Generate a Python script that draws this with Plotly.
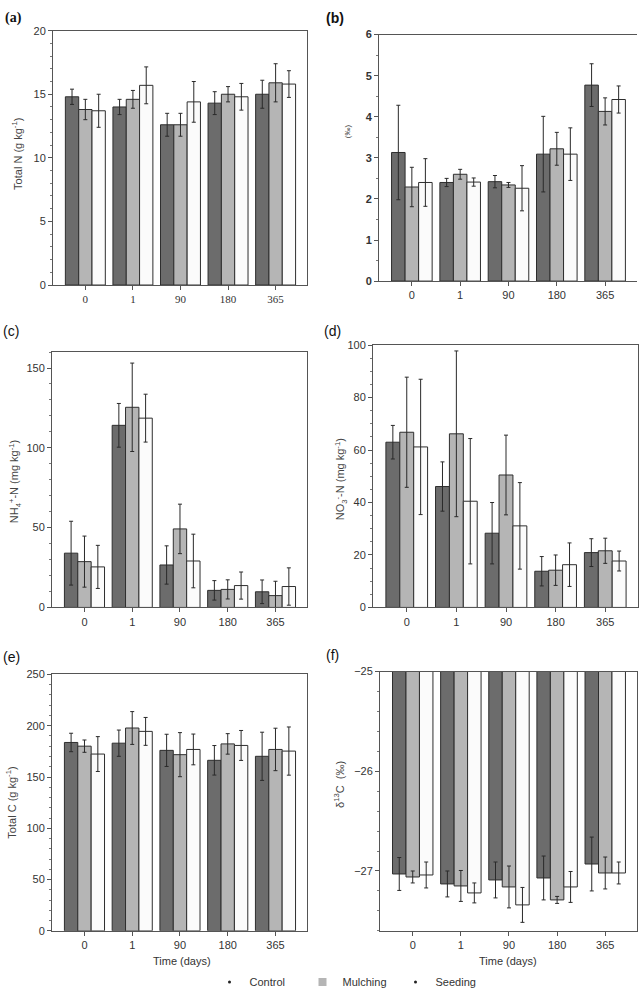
import plotly.graph_objects as go

W, H = 644, 997

days = ["0", "1", "90", "180", "365"]
treatments = ["Control", "Mulching", "Seeding"]
bar_colors = ["#6c6c6c", "#b5b5b5", "#fbfbfb"]

# (a) Total N (g kg-1)
tn_ctrl = [14.8, 14.0, 12.6, 14.3, 15.0]
tn_mulch = [13.8, 14.6, 12.6, 15.0, 15.9]
tn_seed = [13.7, 15.7, 14.4, 14.8, 15.8]
tn_ctrl_err = [0.6, 0.6, 0.9, 0.9, 1.1]
tn_mulch_err = [0.8, 0.7, 0.9, 0.6, 1.5]
tn_seed_err = [1.3, 1.45, 1.6, 1.05, 1.05]

# (b) delta 15N (permil)
dn_ctrl = [3.13, 2.40, 2.42, 3.09, 4.77]
dn_mulch = [2.29, 2.60, 2.34, 3.22, 4.13]
dn_seed = [2.40, 2.41, 2.26, 3.09, 4.42]
dn_ctrl_err = [1.15, 0.10, 0.15, 0.92, 0.52]
dn_mulch_err = [0.48, 0.12, 0.06, 0.40, 0.33]
dn_seed_err = [0.58, 0.10, 0.55, 0.64, 0.33]

# (c) NH4+-N (mg kg-1)
nh_ctrl = [34.0, 114.1, 26.6, 10.7, 9.8]
nh_mulch = [28.7, 125.4, 49.2, 11.3, 7.4]
nh_seed = [25.4, 118.6, 29.1, 13.7, 13.1]
nh_ctrl_err = [20.0, 13.7, 12.0, 6.1, 7.4]
nh_mulch_err = [16.0, 27.7, 15.5, 6.0, 9.0]
nh_seed_err = [13.5, 15.0, 16.8, 8.5, 11.7]

# (d) NO3--N (mg kg-1)
no_ctrl = [63.0, 46.1, 28.3, 13.8, 20.9]
no_mulch = [66.8, 66.2, 50.5, 14.2, 21.6]
no_seed = [61.2, 40.5, 31.1, 16.3, 17.7]
no_ctrl_err = [6.4, 9.4, 11.7, 5.6, 5.3]
no_mulch_err = [21.0, 31.6, 15.2, 5.8, 4.8]
no_seed_err = [25.8, 23.9, 16.5, 8.3, 3.8]

# (e) Total C (g kg-1)
tc_ctrl = [183.7, 183.0, 176.0, 166.3, 170.2]
tc_mulch = [180.1, 197.8, 171.8, 182.3, 176.9]
tc_seed = [172.4, 194.5, 176.9, 180.8, 175.3]
tc_ctrl_err = [9.0, 12.8, 15.7, 14.4, 23.5]
tc_mulch_err = [6.0, 16.0, 21.5, 10.0, 20.7]
tc_seed_err = [17.0, 13.6, 15.0, 14.6, 23.5]

# (f) delta 13C (permil)
dc_ctrl = [-27.03, -27.13, -27.09, -27.07, -26.93]
dc_mulch = [-27.06, -27.15, -27.16, -27.29, -27.02]
dc_seed = [-27.04, -27.22, -27.34, -27.16, -27.02]
dc_ctrl_err = [0.165, 0.13, 0.18, 0.22, 0.27]
dc_mulch_err = [0.06, 0.155, 0.21, 0.035, 0.16]
dc_seed_err = [0.13, 0.10, 0.175, 0.155, 0.11]

panels = [
    ("a", [tn_ctrl, tn_mulch, tn_seed], [tn_ctrl_err, tn_mulch_err, tn_seed_err],
     (53, 307, 25, 283), [0, 20], 5, 1),
    ("b", [dn_ctrl, dn_mulch, dn_seed], [dn_ctrl_err, dn_mulch_err, dn_seed_err],
     (379, 637, 29, 279), [0, 6], 1, 0.5),
    ("c", [nh_ctrl, nh_mulch, nh_seed], [nh_ctrl_err, nh_mulch_err, nh_seed_err],
     (52, 307, 351, 610), [0, 160], 50, 10),
    ("d", [no_ctrl, no_mulch, no_seed], [no_ctrl_err, no_mulch_err, no_seed_err],
     (373, 638, 344, 610), [0, 100], 20, 5),
    ("e", [tc_ctrl, tc_mulch, tc_seed], [tc_ctrl_err, tc_mulch_err, tc_seed_err],
     (52, 307, 678, 938), [0, 250], 50, 10),
    ("f", [dc_ctrl, dc_mulch, dc_seed], [dc_ctrl_err, dc_mulch_err, dc_seed_err],
     (380, 637, 675, 938), [-27.6, -25], 1, 0.2),
]

fig = go.Figure()
layout = {}
for i, (key, vals, errs, box, yr, dt, mn) in enumerate(panels):
    idx = "" if i == 0 else str(i + 1)
    xa, ya = "x" + idx, "y" + idx
    for t, name in enumerate(treatments):
        fig.add_trace(go.Bar(
            x=days, y=vals[t], name=name, xaxis=xa, yaxis=ya,
            marker=dict(color=bar_colors[t], line=dict(color="#2e2e2e", width=1)),
            error_y=dict(type="data", array=errs[t], color="#2a2a2a", thickness=1, width=2),
            showlegend=False, offsetgroup=str(t),
        ))
    x0, x1, y0, y1 = box
    xfont = dict(family="Liberation Serif" if key == "a" else "Liberation Sans", size=11, color="#333")
    yfont = dict(family="Liberation Sans", size=11, color="#333",
                 weight="bold" if key == "b" else "normal")
    layout["xaxis" + idx] = dict(
        domain=[x0 / W, x1 / W], anchor=ya, range=[-0.68, 4.66],
        showline=True, linecolor="#555", linewidth=1, mirror=True,
        ticks="outside", ticklen=4, tickcolor="#555", tickfont=xfont,
        showgrid=False, zeroline=False, fixedrange=True,
    )
    layout["yaxis" + idx] = dict(
        domain=[1 - y1 / H, 1 - y0 / H], anchor=xa, range=yr, dtick=dt,
        showline=True, linecolor="#555", linewidth=1, mirror=(key != "b"),
        ticks="outside", ticklen=4, tickcolor="#555", tickfont=yfont,
        minor=dict(dtick=mn, ticks="outside", ticklen=2, tickcolor="#777"),
        showgrid=False, zeroline=False,
    )

# legend entries
leg_marks = [dict(color="#222", size=3, symbol="circle"),
             dict(color="#b5b5b5", size=8, symbol="square"),
             dict(color="#222", size=3, symbol="circle")]
for t, name in enumerate(treatments):
    fig.add_trace(go.Scatter(x=[None], y=[None], mode="markers", name=name,
                             marker=leg_marks[t], xaxis="x", yaxis="y", showlegend=True))

annos = []
labels = [("(a)", 13, 12, True, "Liberation Serif"), ("(b)", 335, 12, True, "Liberation Sans"),
          ("(c)", 11, 330, False, "Liberation Sans"), ("(d)", 333, 330, False, "Liberation Sans"),
          ("(e)", 11, 660, False, "Liberation Sans"), ("(f)", 333, 658, False, "Liberation Sans")]
for txt, px, py, bold, fam in labels:
    annos.append(dict(text=f"<b>{txt}</b>" if bold else txt, x=px / W, y=1 - py / H,
                      xref="paper", yref="paper", showarrow=False,
                      xanchor="center", yanchor="middle",
                      font=dict(family=fam, size=14, color="#111")))

ytitles = [("Total N (g kg<sup>-1</sup>)", 17, 150),
           ("(‰)", 347, 127),
           ("NH<sub>4</sub><sup>+</sup>-N (mg kg<sup>-1</sup>)", 15, 483),
           ("NO<sub>3</sub><sup>-</sup>-N (mg kg<sup>-1</sup>)", 341, 480),
           ("Total C (g kg<sup>-1</sup>)", 11, 808),
           ("δ<sup>13</sup>C  (‰)", 339, 790)]
for txt, px, py in ytitles:
    annos.append(dict(text=txt, x=px / W, y=1 - py / H, xref="paper", yref="paper",
                      showarrow=False, textangle=-90, xanchor="center", yanchor="middle",
                      font=dict(family="Liberation Sans", size=11 if txt != "(‰)" else 8, color="#444")))

for px in (182, 508):
    annos.append(dict(text="Time (days)", x=px / W, y=1 - 969 / H, xref="paper", yref="paper",
                      showarrow=False, xanchor="center", yanchor="middle",
                      font=dict(family="Liberation Sans", size=11, color="#333")))

fig.update_layout(
    width=W, height=H, margin=dict(l=0, r=0, t=0, b=0),
    paper_bgcolor="white", plot_bgcolor="white",
    barmode="group", bargap=0.16, bargroupgap=0,
    annotations=annos,
    legend=dict(orientation="h", x=0.5 + 27 / W, xanchor="center", y=1 - 990 / H, yanchor="middle",
                font=dict(family="Liberation Sans", size=11, color="#333"),
                entrywidth=48, itemwidth=30, bgcolor="rgba(0,0,0,0)"),
    **layout,
)

fig.write_html("out.html")
